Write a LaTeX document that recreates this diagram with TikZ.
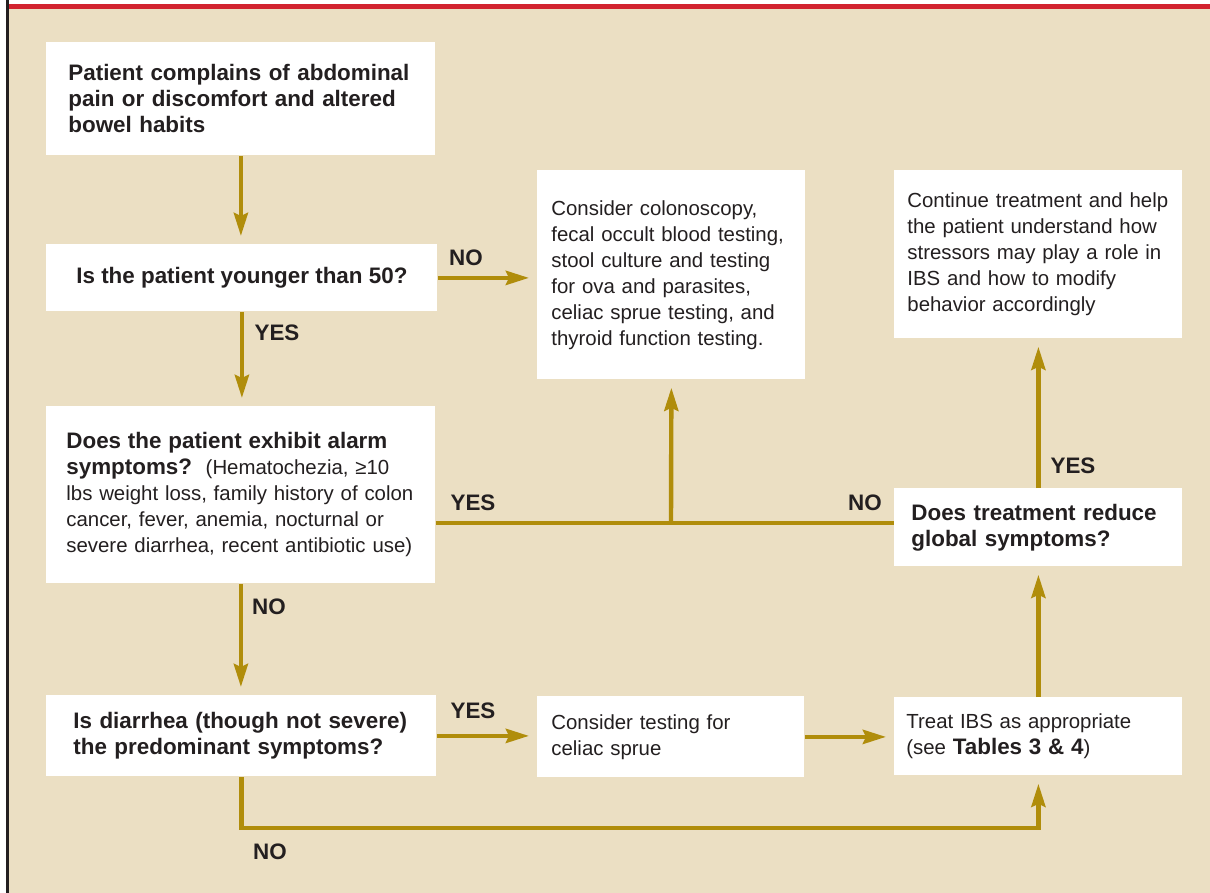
\documentclass[tikz,border=0pt]{standalone}
\usepackage{fontspec}
\setmainfont{Liberation Sans}
\usetikzlibrary{arrows.meta,positioning}
\definecolor{flowgold}{HTML}{B08D0B}
\definecolor{flowbg}{HTML}{EBDFC3}
\definecolor{flowred}{HTML}{D2232F}
\definecolor{flowtext}{HTML}{231F20}

\begin{document}
\begin{tikzpicture}[x=0.5pt, y=-0.5pt,
    box/.style={fill=white, anchor=north west, inner sep=0pt, align=left, text=flowtext,
        font=\fontsize{10.2}{13}\selectfont},
    qbox/.style={box, font=\fontsize{11.2}{13}\selectfont\bfseries},
    flow/.style={draw=flowgold, line width=2.2pt},
    flowarrow/.style={flow, -{Stealth[length=11.5pt, width=7pt, inset=1.5pt]}, shorten >=4pt},
    answer/.style={inner sep=0pt, text=flowtext, font=\fontsize{11.2}{13}\selectfont\bfseries}]
    % frame
    \fill[white] (0,0) rectangle (1210,893);
    \useasboundingbox (0,0) rectangle (1210,893);
    \fill[flowbg] (9,9) rectangle (1210,893);
    \fill[flowred] (9,4) rectangle (1210,9);
    \fill[flowtext] (6,0) rectangle (9,893);

    % left column
    \node[qbox, minimum width=194.5pt, minimum height=56.5pt, text width=172.5pt] (start) at (46,42)
        {Patient complains of abdominal\\pain or discomfort and altered\\bowel habits};
    \node[qbox, minimum width=195.5pt, minimum height=33.5pt, align=center] (age) at (46,244)
        {Is the patient younger than 50?};
    \node[box, minimum width=194.5pt, minimum height=88.5pt, text width=174.5pt] (alarm) at (46,406)
        {\textbf{\fontsize{11.2}{13}\selectfont Does the patient exhibit alarm}\\
         \textbf{\fontsize{11.2}{13}\selectfont symptoms?}\ \ (Hematochezia, ≥10\\
         lbs weight loss, family history of colon\\
         cancer, fever, anemia, nocturnal or\\
         severe diarrhea, recent antibiotic use)};
    \node[qbox, minimum width=195pt, minimum height=40.5pt, text width=168pt] (diarrhea) at (46,695)
        {Is diarrhea (though not severe)\\the predominant symptoms?};

    % middle column
    \node[box, minimum width=134pt, minimum height=104.5pt, text width=120pt] (tests) at (537,170)
        {Consider colonoscopy,\\fecal occult blood testing,\\stool culture and testing\\for ova and parasites,\\celiac sprue testing, and\\thyroid function testing.};
    \node[box, minimum width=133.5pt, minimum height=40.5pt, text width=119.5pt] (celiac) at (537,696)
        {Consider testing for\\celiac sprue};

    % right column
    \node[box, minimum width=144pt, minimum height=84pt, text width=131pt] (continue) at (894,170)
        {Continue treatment and help\\the patient understand how\\stressors may play a role in\\IBS and how to modify\\behavior accordingly};
    \node[qbox, minimum width=144pt, minimum height=39pt, text width=127pt] (reduce) at (894,488)
        {Does treatment reduce\\global symptoms?};
    \node[box, minimum width=144pt, minimum height=39pt, text width=132pt] (treat) at (894,697)
        {Treat IBS as appropriate\\(see \textbf{\fontsize{11.2}{13}\selectfont Tables 3 \& 4})};

    % connectors
    \coordinate (merge) at (671,523);
    \coordinate (bypass) at (240,828);
    \draw[flowarrow] (start.south) -- (start.south |- age.north);
    \draw[flowarrow] (age.east) -- (age.east -| tests.west);
    \draw[flowarrow] (age.south) -- (age.south |- alarm.north);
    \draw[flow] (alarm.east |- merge) -- (reduce.west |- merge);
    \draw[flowarrow] (merge) -- (tests.south);
    \draw[flowarrow] (reduce.north) -- (continue.south);
    \draw[flowarrow] (alarm.south) -- (alarm.south |- diarrhea.north);
    \draw[flowarrow] (diarrhea.east) -- (diarrhea.east -| celiac.west);
    \draw[flowarrow] (celiac.east) -- (celiac.east -| treat.west);
    \draw[flowarrow] (treat.north) -- (reduce.south);
    \draw[flowarrow] (diarrhea.south) |- (treat.south |- bypass) -- (treat.south);

    % answers
    \node[answer] (ageno) at (466,258) {NO};
    \node[answer] (ageyes) at (277,333) {YES};
    \node[answer] (alarmyes) at (473,503) {YES};
    \node[answer] (reduceno) at (865,503) {NO};
    \node[answer] (reduceyes) at (1073,466) {YES};
    \node[answer] (alarmno) at (269,607) {NO};
    \node[answer] (diarrheayes) at (473,711) {YES};
    \node[answer] (diarrheano) at (270,852) {NO};
\end{tikzpicture}
\end{document}
